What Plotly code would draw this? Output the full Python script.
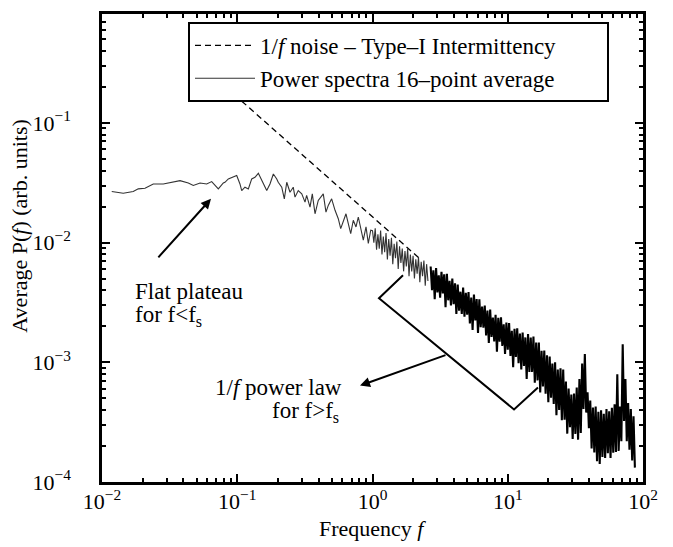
import numpy as np
import plotly.graph_objects as go

# ---------------- data (log10 units) ----------------
# 1/f reference line (end points, real units)
oneoverf_f = [0.108, 2.25]
oneoverf_p = [0.152, 0.0073]

# averaged power spectrum: flat plateau at low frequency
plateau_logf = [-1.928, -1.843, -1.769, -1.732, -1.682, -1.621, -1.547, -1.485,
                -1.423, -1.362, -1.325, -1.275, -1.226, -1.189, -1.140, -1.103]
plateau_logp = [-1.573, -1.587, -1.573, -1.551, -1.546, -1.510, -1.510, -1.496,
                -1.482, -1.502, -1.523, -1.502, -1.510, -1.490, -1.551, -1.502]

# knee region (f ~ 0.08 .. 1)
knee_logf = [-1.091, -1.066, -1.029, -1.004, -0.980, -0.967, -0.943, -0.918, -0.893, -0.869,
             -0.844, -0.819, -0.795, -0.782, -0.758, -0.733, -0.708, -0.697, -0.671, -0.652,
             -0.634, -0.610, -0.586, -0.573, -0.549, -0.523, -0.499, -0.487, -0.462, -0.445,
             -0.425, -0.401,
             -0.364, -0.344, -0.327, -0.302, -0.277, -0.253, -0.235, -0.216, -0.196, -0.179,
             -0.161, -0.142, -0.122, -0.105, -0.087, -0.068, -0.048, -0.031, -0.013]
knee_logp = [-1.496, -1.468, -1.454, -1.440, -1.510, -1.565, -1.537, -1.551, -1.468, -1.454,
             -1.421, -1.482, -1.537, -1.565, -1.510, -1.427, -1.468, -1.496, -1.537, -1.634,
             -1.496, -1.579, -1.537, -1.620, -1.565, -1.593, -1.662, -1.606, -1.703, -1.593,
             -1.759, -1.648,
             -1.593, -1.745, -1.689, -1.634, -1.730, -1.800, -1.883, -1.813, -1.759, -1.842,
             -1.925, -1.813, -1.869, -1.786, -1.896, -1.979, -1.869, -2.007, -1.896]

# transition into the power law (f ~ 1 .. 2.6)
transition_logf = [0.00, 0.01, 0.02, 0.03, 0.04, 0.05, 0.06, 0.07, 0.08, 0.09,
                   0.10, 0.11, 0.12, 0.13, 0.14, 0.15, 0.16, 0.17, 0.18, 0.19,
                   0.20, 0.21, 0.22, 0.23, 0.24, 0.25, 0.26, 0.27, 0.28, 0.29,
                   0.30, 0.31, 0.32, 0.33, 0.34, 0.35, 0.36, 0.37, 0.38, 0.39,
                   0.40, 0.41]
transition_logp = [-1.90, -2.00, -1.88, -2.06, -1.93, -2.05, -1.90, -2.10, -1.95, -2.08,
                   -1.92, -2.14, -1.97, -2.11, -1.96, -2.18, -2.01, -2.13, -1.99, -2.22,
                   -2.03, -2.17, -2.05, -2.24, -2.07, -2.20, -2.05, -2.28, -2.10, -2.24,
                   -2.11, -2.30, -2.14, -2.26, -2.12, -2.33, -2.16, -2.28, -2.15, -2.36,
                   -2.18, -2.32]

# 1/f power-law region and high-frequency tail (dense, noisy band)
powerlaw_logf = [0.43, 0.44, 0.45, 0.46, 0.47, 0.48, 0.49, 0.50, 0.51, 0.52,
                 0.53, 0.54, 0.55, 0.56, 0.57, 0.58, 0.59, 0.60, 0.61, 0.62,
                 0.63, 0.64, 0.65, 0.66, 0.67, 0.68, 0.69, 0.70, 0.71, 0.72,
                 0.73, 0.74, 0.75, 0.76, 0.77, 0.78, 0.79, 0.80, 0.81, 0.82,
                 0.83, 0.84, 0.85, 0.86, 0.87, 0.88, 0.89, 0.90, 0.91, 0.92,
                 0.93, 0.94, 0.95, 0.96, 0.97, 0.98, 0.99, 1.00, 1.01, 1.02,
                 1.03, 1.04, 1.05, 1.06, 1.07, 1.08, 1.09, 1.10, 1.11, 1.12,
                 1.13, 1.14, 1.15, 1.16, 1.17, 1.18, 1.19, 1.20, 1.21, 1.22,
                 1.23, 1.24, 1.25, 1.26, 1.27, 1.28, 1.29, 1.30, 1.31, 1.32,
                 1.33, 1.34, 1.35, 1.36, 1.37, 1.38, 1.39, 1.40, 1.41, 1.42,
                 1.43, 1.44, 1.45, 1.46, 1.47, 1.48, 1.49, 1.50, 1.51, 1.52,
                 1.53, 1.54, 1.55, 1.56, 1.57, 1.58, 1.59, 1.60, 1.61, 1.62,
                 1.63, 1.64, 1.65, 1.66, 1.67, 1.68, 1.69, 1.70, 1.71, 1.72,
                 1.73, 1.74, 1.75, 1.76, 1.77, 1.78, 1.79, 1.80, 1.81, 1.82,
                 1.83, 1.84, 1.85, 1.86, 1.87, 1.88, 1.89, 1.90, 1.91, 1.92,
                 1.93, 1.94]
powerlaw_logp = [-2.200, -2.397, -2.231, -2.472, -2.212, -2.416, -2.273, -2.461, -2.244, -2.425,
                 -2.265, -2.540, -2.260, -2.482, -2.320, -2.524, -2.300, -2.515, -2.340, -2.597,
                 -2.350, -2.569, -2.410, -2.596, -2.375, -2.619, -2.419, -2.602, -2.414, -2.675,
                 -2.458, -2.730, -2.433, -2.650, -2.471, -2.754, -2.473, -2.707, -2.535, -2.711,
                 -2.526, -2.775, -2.568, -2.838, -2.560, -2.788, -2.626, -2.825, -2.603, -2.911,
                 -2.629, -2.827, -2.625, -2.864, -2.682, -2.930, -2.667, -2.894, -2.672, -2.947,
                 -2.736, -3.041, -2.721, -2.955, -2.715, -3.008, -2.760, -3.060, -2.751, -3.030,
                 -2.792, -3.140, -2.763, -3.080, -2.794, -3.080, -2.785, -3.170, -2.835, -3.151,
                 -2.834, -3.252, -2.903, -3.202, -2.902, -3.263, -2.942, -3.334, -2.951, -3.295,
                 -3.010, -3.348, -3.000, -3.443, -3.060, -3.398, -3.050, -3.483, -3.060, -3.479,
                 -3.160, -3.596, -3.220, -3.543, -3.270, -3.640, -3.260, -3.598, -3.210, -3.646,
                 -3.140, -3.590, -3.010, -3.390, -2.930, -3.420, -3.250, -3.550, -3.320, -3.720,
                 -3.377, -3.753, -3.370, -3.827, -3.413, -3.850, -3.400, -3.790, -3.430, -3.800,
                 -3.390, -3.760, -3.410, -3.800, -3.380, -3.755, -3.350, -3.750, -3.100, -3.740,
                 -3.370, -3.660, -2.850, -3.490, -3.140, -3.660, -3.340, -3.730, -3.390, -3.820,
                 -3.450, -3.880]

# axis ticks
x_tickvals = [0.01, 0.1, 1, 10, 100]
x_ticktext = ["10<sup>\u22122</sup>", "10<sup>\u22121</sup>", "10<sup>0</sup>",
              "10<sup>1</sup>", "10<sup>2</sup>"]
y_tickvals = [1e-4, 1e-3, 1e-2, 1e-1]
y_ticktext = ["10<sup>\u22124</sup>", "10<sup>\u22123</sup>", "10<sup>\u22122</sup>",
              "10<sup>\u22121</sup>"]

# ---------------------------------------------------------------------------
FONT = "Liberation Serif, Times New Roman, DejaVu Serif, serif"
OFF = 8                      # default page margin of the written html body
WIN_W, WIN_H = 673, 547
W, H = WIN_W - OFF, WIN_H - OFF
# plot area in window pixels: x 102..643, y 11..482
ML, MT = 102 - OFF, 11 - OFF
MR, MB = WIN_W - 643, WIN_H - 482
PW, PH = W - ML - MR, H - MT - MB


def px2paper(px, py):
    """window pixel -> paper coordinates"""
    return (px - OFF - ML) / PW, (H - MB - (py - OFF)) / PH


spec_f = 10 ** np.array(plateau_logf + knee_logf + transition_logf)
spec_p = 10 ** np.array(plateau_logp + knee_logp + transition_logp)
band_f = 10 ** np.array(powerlaw_logf)
band_p = 10 ** np.array(powerlaw_logp)

fig = go.Figure()
fig.add_trace(go.Scatter(
    x=oneoverf_f, y=oneoverf_p, mode="lines",
    name="1/<i>f</i> noise \u2013 Type\u2013I Intermittency" + "\u00a0" * 8,
    line=dict(color="black", width=1.3, dash="6px,4px")))
fig.add_trace(go.Scatter(
    x=spec_f, y=spec_p, mode="lines",
    name="Power spectra 16\u2013point average", legendgroup="spec",
    line=dict(color="#333333", width=1.1)))
fig.add_trace(go.Scatter(
    x=band_f, y=band_p, mode="lines", showlegend=False, legendgroup="spec",
    name="Power spectra 16\u2013point average",
    line=dict(color="black", width=2.1)))


def minor_vals(lo, hi):
    return [k * 10.0 ** n for n in range(lo, hi) for k in range(2, 10)]


axis_common = dict(
    type="log", showline=True, linecolor="black", linewidth=2.5, mirror="allticks",
    ticks="inside", ticklen=8, tickwidth=1.8, tickcolor="black",
    showgrid=False, zeroline=False, tickmode="array",
    tickfont=dict(family=FONT, size=22, color="black"),
)

fig.update_xaxes(**axis_common, range=[-2, 2], tickvals=x_tickvals, ticktext=x_ticktext,
                 ticklabelstandoff=-2,
                 minor=dict(ticks="inside", ticklen=4, tickwidth=1.5, tickcolor="black",
                            tickmode="array", tickvals=minor_vals(-2, 2), showgrid=False))
fig.update_yaxes(**axis_common, range=[-4, -0.09], tickvals=y_tickvals, ticktext=y_ticktext,
                 ticklabelstandoff=24,
                 minor=dict(ticks="inside", ticklen=4, tickwidth=1.5, tickcolor="black",
                            tickmode="array", tickvals=minor_vals(-4, 0), showgrid=False))

lx, ly = px2paper(188, 19)
fig.update_layout(
    width=W, height=H,
    margin=dict(l=ML, r=MR, t=MT, b=MB, pad=0),
    paper_bgcolor="white", plot_bgcolor="white",
    font=dict(family=FONT, size=22, color="black"),
    showlegend=True,
    legend=dict(x=lx, y=ly, xanchor="left", yanchor="top",
                bordercolor="black", borderwidth=2, bgcolor="white",
                font=dict(family=FONT, size=23, color="black"),
                itemwidth=60, tracegroupgap=0),
)

ann = []


def text_ann(txt, px, py, xanchor="left", angle=0, size=23):
    x, y = px2paper(px, py)
    ann.append(dict(text=txt, x=x, y=y, xref="paper", yref="paper", xanchor=xanchor,
                    yanchor="middle", showarrow=False, textangle=angle,
                    font=dict(family=FONT, size=size, color="black")))


text_ann("Average P(<i>f</i>) (arb. units)", 20, 225, xanchor="center", angle=-90, size=22)
text_ann("Frequency <i>f</i>", 372, 529, xanchor="center", size=22)
text_ann("Flat plateau", 133, 290)
text_ann("for f&lt;f<sub>s</sub>", 133, 315)
text_ann("1/<i>f</i> power law", 213, 387)
text_ann("for f&gt;f<sub>s</sub>", 270, 412)


def arrow_ann(head, tail):
    x, y = px2paper(*head)
    ann.append(dict(text="", x=x, y=y, xref="paper", yref="paper", showarrow=True,
                    ax=tail[0] - head[0], ay=tail[1] - head[1],
                    arrowhead=2, arrowsize=1, arrowwidth=2, arrowcolor="black", standoff=0))


arrow_ann((211, 197), (157, 257))
arrow_ann((360, 385), (447, 354))
fig.update_layout(annotations=ann)

# bracket marking the power-law range
pts = [px2paper(403, 274), px2paper(379, 297), px2paper(514, 409), px2paper(538, 387)]
path = "M " + " L ".join(f"{x:.4f},{y:.4f}" for x, y in pts)
fig.add_shape(type="path", path=path, xref="paper", yref="paper",
              line=dict(color="black", width=2))

fig.write_html("out.html")
